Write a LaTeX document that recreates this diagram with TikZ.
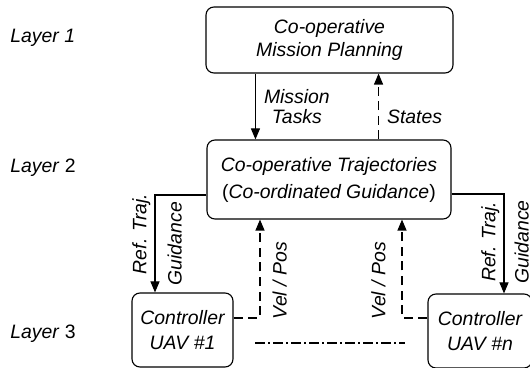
\documentclass[tikz,border=0pt]{standalone}
\usepackage{fontspec}
\setmainfont{Liberation Sans}
\usetikzlibrary{arrows.meta, positioning}

\tikzset{
  block/.style={draw, rounded corners=4pt, align=center, line width=0.55pt,
    font=\fontsize{9.7}{11.5}\selectfont\itshape},
  tag/.style={align=center, inner sep=2pt,
    font=\fontsize{9.7}{10.2}\selectfont\itshape},
  flow/.style={-{Triangle[length=5.5pt,width=4.5pt]}, line width=0.55pt},
  feedback/.style={flow, dash pattern=on 4.5pt off 2.8pt},
  swarm/.style={line width=0.55pt, dash pattern=on 5pt off 1.5pt on 1pt off 1.5pt},
}

\begin{document}
\begin{tikzpicture}[x=0.5pt, y=-0.5pt]
    \clip (0,0) rectangle (530,368);

    % blocks
    \node[block, minimum width=123.5pt, minimum height=33pt] (plan) at (329.5,40) {Co-operative\\Mission Planning};
    \node[block, minimum width=122pt, minimum height=39.5pt] (traj) at (329,179.5) {Co-operative Trajectories\\[2pt]\textup{(}Co-ordinated Guidance\textup{)}};
    \node[block, minimum width=50.5pt, minimum height=37pt] (ctrlA) at (182.5,330) {Controller\\[1pt]UAV \#1};
    \node[block, minimum width=52pt, minimum height=37pt] (ctrlN) at (480,331) {Controller\\[1pt]UAV \#n};

    % layers
    \node[tag, anchor=west] (lay1) at (6,38) {Layer 1};
    \node[tag, anchor=west] (lay2) at (6,168) {Layer \textup{2}};
    \node[tag, anchor=west] (lay3) at (6,334) {Layer \textup{3}};

    % layer 1 <-> layer 2
    \coordinate (tasks) at ([xshift=25pt]plan.south west);
    \coordinate (states) at ([xshift=-37.5pt]plan.south east);
    \draw[flow] (tasks) -- (tasks |- traj.north) node[tag, midway, right=2pt] {Mission\\Tasks};
    \draw[feedback] (states |- traj.north) -- (states) node[tag, pos=0.35, right=2pt] {States};

    % layer 2 -> layer 3
    \draw[flow] ([yshift=-7.75pt]traj.west) -| ([xshift=-13.75pt]ctrlA.north)
        node[tag, rotate=90, anchor=south, pos=0.70] {Ref. Traj.}
        node[tag, rotate=90, anchor=north, inner ysep=6pt, pos=0.75] {Guidance};
    \draw[flow] ([yshift=-7.25pt]traj.east) -| ([xshift=12pt]ctrlN.north)
        node[tag, rotate=90, anchor=south, pos=0.74] {Ref. Traj.}
        node[tag, rotate=90, anchor=north, inner ysep=5pt, pos=0.74] {Guidance};

    % layer 3 -> layer 2
    \draw[feedback] ([yshift=6pt]ctrlA.east) -| ([xshift=-34.5pt]traj.south)
        node[tag, rotate=90, anchor=north, inner ysep=6pt, pos=0.69] {Vel / Pos};
    \draw[feedback] ([yshift=6.5pt]ctrlN.west) -| ([xshift=36.5pt]traj.south)
        node[tag, rotate=90, anchor=south, inner ysep=8pt, pos=0.69] {Vel / Pos};

    % other UAVs
    \coordinate (linkA) at (255,343);
    \coordinate (linkN) at (405,343);
    \draw[swarm] (linkA) -- (linkN);
\end{tikzpicture}
\end{document}
